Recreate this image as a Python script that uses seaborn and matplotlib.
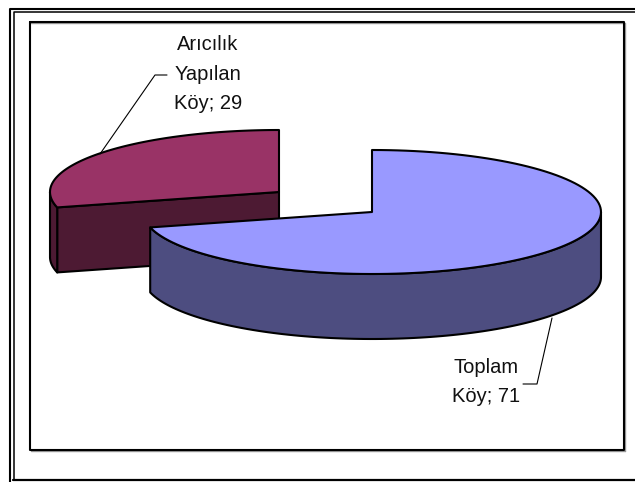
import numpy as np
import matplotlib
matplotlib.use("Agg")
import matplotlib.pyplot as plt
import seaborn as sns

sns.set_style("white")
plt.rcParams['font.family'] = ['Liberation Sans', 'DejaVu Sans']

# values
labels = ["Toplam\nKöy; 71", "Arıcılık\nYapılan\nKöy; 29"]
values = [71, 29]
colors_top = ["#9999FF", "#993366"]
colors_side = ["#4D4D80", "#4D1A33"]

RX, RY, DEPTH = 229, 62, 65


def arc(cx, cy, a0, a1, n=120):
    # angles in degrees, clockwise from 12 o'clock
    t = np.radians(np.linspace(a0, a1, n))
    return np.column_stack([cx + RX * np.sin(t), cy - RY * np.cos(t)])


def draw_slice(ax, cx, cy, a0, a1, top, side):
    a_lo, a_hi = min(a0, a1), max(a0, a1)
    edge = dict(edgecolor="black", linewidth=1.5, joinstyle="round")

    # flat cut face seen from the front (only the slice pulled out left has one)
    if a_lo < 0:
        p = arc(cx, cy, a_lo, a_lo, 1)[0]
        face = [(cx, cy), p, p + (0, DEPTH), (cx, cy + DEPTH)]
        ax.fill(*zip(*face), facecolor=side, **edge)

    # outer rim, only the part that faces the viewer
    if a_lo < 0:
        rim_a, rim_b = a_lo, -90
    else:
        rim_a, rim_b = 90, a_hi
    rim = arc(cx, cy, rim_a, rim_b)
    rim = np.vstack([rim, rim[::-1] + (0, DEPTH)])
    ax.fill(rim[:, 0], rim[:, 1], facecolor=side, **edge)

    # top surface
    surf = np.vstack([[cx, cy], arc(cx, cy, a0, a1)])
    ax.fill(surf[:, 0], surf[:, 1], facecolor=top, **edge)


fig = plt.figure(figsize=(6.35, 4.82), dpi=100)
ax = fig.add_axes([0, 0, 1, 1])
ax.set_xlim(0, 635)
ax.set_ylim(482, 0)
ax.axis("off")

# page borders and chart frame
ax.plot([635, 10, 10], [9.3, 9.3, 482], color="black", lw=1.5)
ax.plot([635, 13.5, 13.5], [12.2, 12.2, 480], color="black", lw=1.1)
ax.plot([13, 635], [479.7, 479.7], color="black", lw=1.6)
ax.plot([31, 625, 625], [23, 23, 451], color="#999999", lw=1)
ax.plot([31, 625], [451, 451], color="#999999", lw=1)
ax.plot([30, 623.5, 623.5, 30, 30], [22, 22, 450, 450, 22], color="black", lw=1.5)

sweep = [v / sum(values) * 360 for v in values]

# the small slice is pulled out to the upper left, so it goes first
draw_slice(ax, 279, 192, 0, -sweep[1], colors_top[1], colors_side[1])
draw_slice(ax, 372, 212, 0, sweep[0], colors_top[0], colors_side[0])

# leader lines
ax.plot([100, 155, 167], [154, 75, 75], color="black", lw=0.8)
ax.plot([552, 537, 523], [318, 384, 384], color="black", lw=0.8)

ax.text(486, 382, labels[0], ha="center", va="center", fontsize=14.5,
        linespacing=1.68, color="#111111")
ax.text(208, 74, labels[1], ha="center", va="center", fontsize=14.5,
        linespacing=1.68, color="#111111")

fig.savefig("out.png", dpi=100)
